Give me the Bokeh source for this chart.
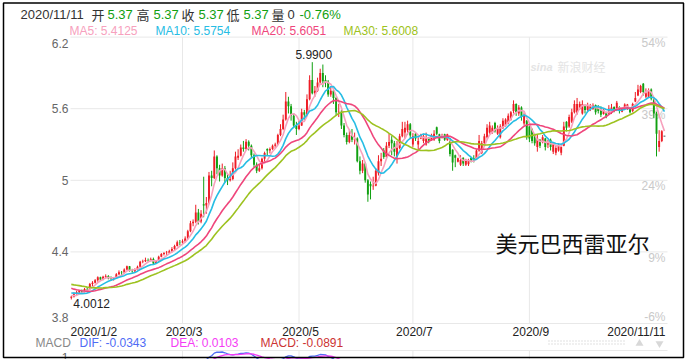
import numpy as np
from bokeh.plotting import figure
from bokeh.models import Range1d, ColumnDataSource
from bokeh.core.properties import value
from bokeh.embed import file_html
from bokeh.resources import INLINE

# ---------------- data ----------------
first_date_label = "2020/1/2"
last_date_label = "2020/11/11"
x_tick_index = [42, 86, 129, 173]
x_tick_labels = ["2020/3", "2020/5", "2020/7", "2020/9"]
y_ticks = [3.8, 4.4, 5.0, 5.6, 6.2]
y_tick_labels = ["3.8", "4.4", "5", "5.6", "6.2"]
pct_tick_labels = ["-6%", "9%", "24%", "39%", "54%"]

# closes of the 29 sessions before 2020/1/2 (needed for the moving averages)
pre_closes = [4.17, 4.16, 4.17, 4.19, 4.21, 4.23, 4.21, 4.19,
              4.21, 4.20, 4.19, 4.16, 4.15, 4.15, 4.15, 4.14, 4.12, 4.11,
              4.10, 4.07, 4.06, 4.07, 4.09, 4.09, 4.07, 4.06, 4.05, 4.02, 4.02]

opens = [
    # Jan
    4.015, 4.025, 4.053, 4.062, 4.072, 4.068, 4.090, 4.088, 4.130, 4.142, 4.163, 4.188, 4.168, 4.192, 4.198, 4.180, 4.172, 4.178, 4.212, 4.230, 4.228, 4.252,
    # Feb
    4.280, 4.242, 4.238, 4.250, 4.275, 4.318, 4.322, 4.332, 4.330, 4.340, 4.302, 4.322, 4.360, 4.382, 4.390, 4.392, 4.405, 4.425, 4.450, 4.480,
    # Mar
    4.478, 4.490, 4.512, 4.572, 4.640, 4.652, 4.730, 4.655, 4.800, 4.788, 4.810, 5.040, 5.020, 5.200, 5.100, 5.040, 5.100, 5.020, 5.000, 5.010, 5.100, 5.190,
    # Apr
    5.205, 5.275, 5.262, 5.322, 5.290, 5.210, 5.130, 5.080, 5.100, 5.180, 5.262, 5.250, 5.262, 5.290, 5.300, 5.380, 5.430, 5.510, 5.660, 5.620, 5.540, 5.460,
    # May
    5.430, 5.460, 5.570, 5.550, 5.680, 5.840, 5.730, 5.750, 5.820, 5.900, 5.840, 5.825, 5.720, 5.750, 5.690, 5.570, 5.575, 5.460, 5.380, 5.320, 5.380,
    # Jun
    5.340, 5.350, 5.160, 5.080, 5.140, 5.000, 4.970, 4.950, 4.955, 5.060, 5.160, 5.250, 5.195, 5.290, 5.340, 5.310, 5.200, 5.270, 5.370, 5.400, 5.420, 5.470,
    # Jul
    5.300, 5.390, 5.300, 5.350, 5.330, 5.300, 5.355, 5.335, 5.340, 5.445, 5.385, 5.355, 5.385, 5.340, 5.350, 5.255, 5.210, 5.155, 5.130, 5.190, 5.130, 5.135, 5.190,
    # Aug
    5.185, 5.180, 5.250, 5.230, 5.310, 5.360, 5.400, 5.400, 5.480, 5.390, 5.360, 5.440, 5.460, 5.480, 5.510, 5.580, 5.640, 5.560, 5.610, 5.475, 5.500,
    # Sep
    5.450, 5.430, 5.380, 5.280, 5.340, 5.320, 5.350, 5.300, 5.340, 5.240, 5.230, 5.250, 5.230, 5.290, 5.490, 5.450, 5.490, 5.570, 5.560, 5.600, 5.560, 5.630,
    # Oct
    5.590, 5.600, 5.600, 5.630, 5.620, 5.600, 5.555, 5.570, 5.560, 5.570, 5.615, 5.590, 5.615, 5.575, 5.600, 5.600, 5.600, 5.580, 5.660, 5.710, 5.740, 5.810,
    # Nov
    5.700, 5.700, 5.760, 5.680, 5.560, 5.280, 5.330, 5.370,
]
highs = [
    4.032, 4.062, 4.075, 4.078, 4.085, 4.098, 4.102, 4.140, 4.155, 4.172, 4.195, 4.192, 4.200, 4.212, 4.205, 4.195, 4.190, 4.222, 4.245, 4.240, 4.262, 4.285,
    4.282, 4.258, 4.262, 4.285, 4.325, 4.335, 4.352, 4.345, 4.352, 4.352, 4.330, 4.368, 4.390, 4.398, 4.408, 4.418, 4.440, 4.460, 4.495, 4.500,
    4.505, 4.530, 4.585, 4.660, 4.672, 4.795, 4.760, 4.750, 5.030, 4.860, 5.070, 5.080, 5.250, 5.210, 5.130, 5.140, 5.120, 5.060, 5.080, 5.150, 5.240, 5.260,
    5.300, 5.330, 5.345, 5.335, 5.300, 5.225, 5.150, 5.130, 5.190, 5.240, 5.268, 5.275, 5.300, 5.315, 5.390, 5.470, 5.550, 5.740, 5.700, 5.640, 5.560, 5.490,
    5.500, 5.600, 5.590, 5.720, 5.880, 5.990, 5.790, 5.860, 5.935, 5.970, 5.880, 5.840, 5.790, 5.760, 5.700, 5.640, 5.590, 5.480, 5.400, 5.420, 5.430,
    5.400, 5.360, 5.200, 5.170, 5.150, 5.010, 4.990, 5.030, 5.100, 5.210, 5.230, 5.270, 5.320, 5.390, 5.370, 5.330, 5.330, 5.390, 5.490, 5.490, 5.500, 5.480,
    5.395, 5.400, 5.360, 5.390, 5.390, 5.400, 5.360, 5.390, 5.420, 5.450, 5.390, 5.390, 5.390, 5.390, 5.355, 5.260, 5.215, 5.190, 5.210, 5.192, 5.180, 5.180, 5.192,
    5.210, 5.260, 5.380, 5.330, 5.390, 5.470, 5.490, 5.460, 5.490, 5.460, 5.470, 5.520, 5.520, 5.560, 5.580, 5.670, 5.645, 5.630, 5.620, 5.570, 5.505,
    5.460, 5.435, 5.390, 5.380, 5.345, 5.380, 5.355, 5.340, 5.350, 5.320, 5.290, 5.310, 5.290, 5.490, 5.495, 5.550, 5.600, 5.670, 5.690, 5.660, 5.670, 5.635,
    5.650, 5.640, 5.645, 5.635, 5.630, 5.620, 5.600, 5.575, 5.630, 5.640, 5.620, 5.665, 5.620, 5.605, 5.645, 5.640, 5.605, 5.650, 5.740, 5.800, 5.800, 5.815,
    5.770, 5.770, 5.770, 5.690, 5.575, 5.420, 5.420, 5.370,
]
lows = [
    4.0012, 4.018, 4.040, 4.048, 4.050, 4.060, 4.072, 4.085, 4.112, 4.135, 4.150, 4.160, 4.162, 4.180, 4.170, 4.158, 4.160, 4.175, 4.205, 4.205, 4.220, 4.245,
    4.235, 4.225, 4.230, 4.245, 4.270, 4.305, 4.315, 4.318, 4.320, 4.290, 4.298, 4.318, 4.355, 4.370, 4.375, 4.385, 4.395, 4.415, 4.445, 4.455,
    4.460, 4.480, 4.505, 4.565, 4.615, 4.640, 4.630, 4.640, 4.690, 4.720, 4.800, 4.950, 5.010, 5.050, 4.990, 5.030, 4.980, 4.960, 4.990, 5.000, 5.090, 5.170,
    5.200, 5.240, 5.255, 5.250, 5.190, 5.110, 5.060, 5.070, 5.090, 5.160, 5.210, 5.225, 5.255, 5.270, 5.295, 5.370, 5.420, 5.500, 5.560, 5.500, 5.440, 5.380,
    5.420, 5.455, 5.500, 5.540, 5.670, 5.720, 5.700, 5.740, 5.800, 5.780, 5.780, 5.700, 5.700, 5.640, 5.540, 5.530, 5.430, 5.360, 5.300, 5.310, 5.320,
    5.300, 5.150, 5.050, 5.060, 4.980, 4.820, 4.840, 4.920, 4.950, 5.040, 5.120, 5.180, 5.190, 5.270, 5.210, 5.200, 5.140, 5.260, 5.360, 5.350, 5.380, 5.350,
    5.280, 5.330, 5.250, 5.345, 5.310, 5.290, 5.310, 5.330, 5.330, 5.380, 5.310, 5.350, 5.330, 5.330, 5.200, 5.080, 5.110, 5.150, 5.120, 5.120, 5.120, 5.120, 5.150,
    5.150, 5.175, 5.240, 5.220, 5.305, 5.350, 5.390, 5.390, 5.400, 5.380, 5.350, 5.430, 5.450, 5.470, 5.500, 5.560, 5.540, 5.540, 5.500, 5.460, 5.340,
    5.320, 5.310, 5.290, 5.240, 5.270, 5.310, 5.250, 5.270, 5.250, 5.220, 5.210, 5.240, 5.210, 5.285, 5.410, 5.440, 5.480, 5.560, 5.550, 5.590, 5.550, 5.560,
    5.570, 5.580, 5.590, 5.550, 5.560, 5.530, 5.550, 5.520, 5.550, 5.555, 5.570, 5.580, 5.560, 5.570, 5.590, 5.590, 5.560, 5.570, 5.655, 5.705, 5.730, 5.710,
    5.690, 5.690, 5.670, 5.520, 5.200, 5.240, 5.320, 5.370,
]
closes = [
    4.025, 4.053, 4.062, 4.072, 4.068, 4.090, 4.088, 4.130, 4.142, 4.163, 4.188, 4.168, 4.192, 4.198, 4.180, 4.172, 4.178, 4.212, 4.230, 4.228, 4.252, 4.280,
    4.242, 4.238, 4.250, 4.275, 4.318, 4.322, 4.332, 4.330, 4.340, 4.302, 4.322, 4.360, 4.382, 4.390, 4.392, 4.405, 4.425, 4.450, 4.480, 4.478,
    4.490, 4.512, 4.572, 4.640, 4.652, 4.730, 4.655, 4.720, 4.788, 4.810, 5.040, 5.020, 5.200, 5.100, 5.040, 5.100, 5.020, 5.000, 5.010, 5.100, 5.200, 5.205,
    5.275, 5.262, 5.322, 5.290, 5.210, 5.130, 5.080, 5.100, 5.180, 5.228, 5.250, 5.262, 5.290, 5.300, 5.380, 5.430, 5.510, 5.660, 5.620, 5.540, 5.460, 5.430,
    5.460, 5.570, 5.550, 5.680, 5.840, 5.730, 5.750, 5.820, 5.900, 5.830, 5.825, 5.720, 5.750, 5.690, 5.570, 5.575, 5.460, 5.380, 5.320, 5.380, 5.340,
    5.350, 5.160, 5.080, 5.140, 5.000, 4.880, 4.950, 4.955, 5.080, 5.160, 5.180, 5.195, 5.290, 5.320, 5.310, 5.240, 5.270, 5.370, 5.430, 5.440, 5.470, 5.375,
    5.370, 5.350, 5.330, 5.380, 5.370, 5.350, 5.330, 5.380, 5.390, 5.390, 5.330, 5.380, 5.340, 5.385, 5.220, 5.150, 5.190, 5.185, 5.170, 5.140, 5.165, 5.170, 5.160,
    5.170, 5.250, 5.330, 5.310, 5.370, 5.440, 5.460, 5.440, 5.410, 5.430, 5.450, 5.500, 5.510, 5.540, 5.570, 5.640, 5.570, 5.610, 5.530, 5.545, 5.360,
    5.350, 5.330, 5.310, 5.350, 5.290, 5.360, 5.280, 5.320, 5.280, 5.300, 5.270, 5.290, 5.280, 5.450, 5.440, 5.530, 5.570, 5.640, 5.640, 5.640, 5.640, 5.590,
    5.630, 5.620, 5.630, 5.570, 5.580, 5.550, 5.590, 5.540, 5.600, 5.610, 5.590, 5.650, 5.580, 5.600, 5.635, 5.635, 5.570, 5.640, 5.690, 5.760, 5.790, 5.740,
    5.730, 5.745, 5.685, 5.560, 5.390, 5.330, 5.411, 5.370,
]

header_values = {"date": "2020/11/11", "open": "5.37", "high": "5.37", "close": "5.37",
                 "low": "5.37", "vol": "0", "chg": "-0.76%"}
ma_periods = [5, 10, 20, 30]
ma_header = ["MA5: 5.4125", "MA10: 5.5754", "MA20: 5.6051", "MA30: 5.6008"]
macd_header = ["DIF: -0.0343", "DEA: 0.0103", "MACD: -0.0891"]
title_cn = "美元巴西雷亚尔"

# ---------------- styles ----------------
RED, GREEN, FLAT = "#ee1c25", "#10a010", "#555555"
MA_COLORS = ["#f7a1bd", "#27bde4", "#ef467c", "#9dc220"]
GRID = "#e8e8e8"
FONT = "Liberation Sans"
CJK = "Noto Sans CJK SC"

# ---------------- geometry (page pixels) ----------------
FIG_X, FIG_Y, W, H = 0, 0, 685, 359
X0, XS = 70.8, 2.648             # page x of slot 0 and slot width
Y_TOP_PX, Y_BOT_PX = 36.6, 323.0  # page y of 6.2 and 3.8
P_TOP, P_BOT = 6.2, 3.8
YS = (Y_BOT_PX - Y_TOP_PX) / (P_TOP - P_BOT)


def ix(px):
    return (px - X0) / XS


def pv(py):
    return P_TOP - (py - Y_TOP_PX) / YS


# ---------------- derived series ----------------
N = len(closes)
idx = np.arange(N)
o = np.array(opens)
h = np.array(highs)
l = np.array(lows)
c = np.array(closes)
allc = np.array(pre_closes + closes)
P = len(pre_closes)


def sma(n):
    return np.array([allc[P + i - n + 1:P + i + 1].mean() for i in range(N)])


def ema(arr, n):
    a = 2.0 / (n + 1)
    out = np.empty(len(arr))
    out[0] = arr[0]
    for k in range(1, len(arr)):
        out[k] = a * arr[k] + (1 - a) * out[k - 1]
    return out


dif_all = ema(allc, 12) - ema(allc, 26)
dea_all = ema(dif_all, 9)
dif = dif_all[P:]
dea = dea_all[P:]

# ---------------- figure ----------------
p = figure(width=W, height=H,
           x_range=Range1d(ix(FIG_X), ix(FIG_X + W)),
           y_range=Range1d(pv(FIG_Y + H), pv(FIG_Y)),
           x_axis_type=None, y_axis_type=None,
           toolbar_location=None, output_backend="svg",
           min_border=0, outline_line_color=None,
           background_fill_color="white", border_fill_color="white")
p.min_border_left = p.min_border_right = p.min_border_top = p.min_border_bottom = 0

# MACD panel scale
MACD_PX_PER_UNIT = 110.0
macd_top = max(dif.max(), dea.max()) + 1.5 / MACD_PX_PER_UNIT
MACD_TOP_PX = 350.0
p.extra_y_ranges = {"macd": Range1d(macd_top - (FIG_Y + H - MACD_TOP_PX) / MACD_PX_PER_UNIT,
                                    macd_top + (MACD_TOP_PX - FIG_Y) / MACD_PX_PER_UNIT)}

# grid
gx0, gx1 = ix(70), ix(667)
p.segment(x0=gx0, x1=gx1, y0=y_ticks, y1=y_ticks, line_color=GRID, line_width=1)
p.segment(x0=x_tick_index, x1=x_tick_index, y0=P_BOT, y1=P_TOP, line_color=GRID, line_width=1)
p.segment(x0=x_tick_index, x1=x_tick_index, y0=pv(MACD_TOP_PX), y1=pv(FIG_Y + H), line_color=GRID, line_width=1)
p.segment(x0=[gx0], x1=[gx1], y0=[pv(MACD_TOP_PX)], y1=[pv(MACD_TOP_PX)], line_color=GRID, line_width=1)

# right percentage labels
p.text(x=ix(665), y=y_ticks[1:], text=pct_tick_labels[1:], y_offset=6,
       text_align="right", text_baseline="middle", text_color="#c9c9c9",
       text_font=value(FONT), text_font_size=value("12px"))
p.text(x=[ix(665)], y=[y_ticks[0]], text=[pct_tick_labels[0]], y_offset=-7,
       text_align="right", text_baseline="middle", text_color="#c9c9c9",
       text_font=value(FONT), text_font_size=value("12px"))

# watermark
p.text(x=[ix(530)], y=[pv(66)], text=["sina"], text_align="left", text_baseline="middle",
       text_color="#e4e4e4", text_font=value(FONT), text_font_size=value("11px"),
       text_font_style="bold italic")
p.text(x=[ix(557)], y=[pv(66)], text=["新浪财经"], text_align="left", text_baseline="middle",
       text_color="#e4e4e4", text_font=value(CJK), text_font_size=value("12px"))

# candles
col = np.where(c > o, RED, np.where(c < o, GREEN, FLAT))
src = ColumnDataSource(dict(x=idx, o=o, h=h, l=l, c=c,
                            top=np.maximum(o, c), bot=np.minimum(o, c), col=col))
p.segment(x0="x", x1="x", y0="l", y1="h", line_color="col", line_width=1, source=src)
p.vbar(x="x", width=0.72, top="top", bottom="bot", fill_color="col", line_color=None, source=src)
flat = c == o
p.segment(x0=idx[flat] - 0.36, x1=idx[flat] + 0.36, y0=c[flat], y1=c[flat],
          line_color=FLAT, line_width=1)

# moving averages
for n, colr in zip(ma_periods, MA_COLORS):
    p.line(idx, sma(n), line_color=colr, line_width=1.6)

# MACD lines peeking at top of lower panel
p.line(idx, dif, line_color="#4f6cf5", line_width=1.3, y_range_name="macd")
p.line(idx, dea, line_color="#f53cf5", line_width=1.3, y_range_name="macd")

# extreme labels
imax = int(np.argmax(h))
imin = int(np.argmin(l))
p.text(x=[imax], y=[h[imax]], text=[f"{h[imax]:.4f}"], x_offset=1.5, y_offset=-3,
       text_align="center", text_baseline="bottom", text_color="#222222",
       text_font=value(FONT), text_font_size=value("12px"))
p.text(x=[imin], y=[l[imin]], text=[f"{l[imin]:.4f}"], x_offset=2, y_offset=0,
       text_align="left", text_baseline="top", text_color="#222222",
       text_font=value(FONT), text_font_size=value("12px"))

# left price labels
p.text(x=ix(68), y=y_ticks[1:-1], text=y_tick_labels[1:-1], text_align="right",
       text_baseline="middle", text_color="#666666", text_font=value(FONT), text_font_size=value("12px"))
p.text(x=[ix(68)], y=[y_ticks[-1]], text=[y_tick_labels[-1]], y_offset=6.5, text_align="right",
       text_baseline="middle", text_color="#666666", text_font=value(FONT), text_font_size=value("12px"))
p.text(x=[ix(68)], y=[y_ticks[0]], text=[y_tick_labels[0]], y_offset=-6.5, text_align="right",
       text_baseline="middle", text_color="#666666", text_font=value(FONT), text_font_size=value("12px"))
p.text(x=[ix(68)], y=[pv(352)], text=["1"], text_align="right", text_baseline="top",
       text_color="#666666", text_font=value(FONT), text_font_size=value("12px"))

# x labels
XL_Y = pv(331.5)
p.text(x=x_tick_index, y=XL_Y, text=x_tick_labels, x_offset=1.5, text_align="center",
       text_baseline="middle", text_color="#222222", text_font=value(FONT), text_font_size=value("12px"))
p.text(x=[ix(70)], y=[XL_Y], text=[first_date_label], text_align="left",
       text_baseline="middle", text_color="#222222", text_font=value(FONT), text_font_size=value("12px"))
p.text(x=[ix(665)], y=[XL_Y], text=[last_date_label], text_align="right",
       text_baseline="middle", text_color="#222222", text_font=value(FONT), text_font_size=value("12px"))

# header line 1
H1 = pv(14)
hv = header_values
parts = [(20, hv["date"], "#333333", FONT), (91, "开", "#333333", CJK), (107, hv["open"], GREEN, FONT),
         (136, "高", "#333333", CJK), (153, hv["high"], GREEN, FONT), (181, "收", "#333333", CJK),
         (198, hv["close"], GREEN, FONT), (226, "低", "#333333", CJK), (243, hv["low"], GREEN, FONT),
         (271, "量", "#333333", CJK), (287, hv["vol"], "#333333", FONT), (299, hv["chg"], GREEN, FONT)]
for px, s, colr, fnt in parts:
    p.text(x=[ix(px)], y=[H1], text=[s], text_align="left", text_baseline="middle",
           text_color=colr, text_font=value(fnt), text_font_size=value("13px"))

# header line 2 (MA values)
H2 = pv(30)
for px, s, colr in zip([69, 155, 251, 343], ma_header, MA_COLORS):
    p.text(x=[ix(px)], y=[H2], text=[s], text_align="left", text_baseline="middle",
           text_color=colr, text_font=value(FONT), text_font_size=value("12px"))

# MACD header
H3 = pv(342.5)
p.text(x=[ix(35)], y=[H3], text=["MACD"], text_align="left", text_baseline="middle",
       text_color="#888888", text_font=value(FONT), text_font_size=value("12px"))
for px, s, colr in zip([79, 170, 260], macd_header, ["#4f6cf5", "#f53cf5", "#cc3333"]):
    p.text(x=[ix(px)], y=[H3], text=[s], text_align="left", text_baseline="middle",
           text_color=colr, text_font=value(FONT), text_font_size=value("12px"))

# scroll controls (right of MACD header)
p.segment(x0=[ix(548), ix(548)], x1=[ix(626), ix(626)], y0=[pv(340.5), pv(343.5)], y1=[pv(340.5), pv(343.5)],
          line_color="#d6d6d6", line_width=1.5, line_dash="1 2")
p.scatter(x=[ix(639)], y=[pv(343)], marker="triangle", size=8, fill_color="#d8d8d8", line_color=None)
p.scatter(x=[ix(659)], y=[pv(343)], marker="inverted_triangle", size=8, fill_color="#d8d8d8", line_color=None)

# chart title
p.text(x=[ix(495)], y=[pv(241)], text=[title_cn], text_align="left", text_baseline="middle",
       text_color="#111111", text_font=value(CJK), text_font_size=value("22px"))

# outer border
p.quad(left=[ix(3)], right=[ix(683)], bottom=[pv(357)], top=[pv(2.5)],
       fill_color=None, line_color="#000000", line_width=1.5)

open("out.html", "w").write(file_html(p, INLINE))
